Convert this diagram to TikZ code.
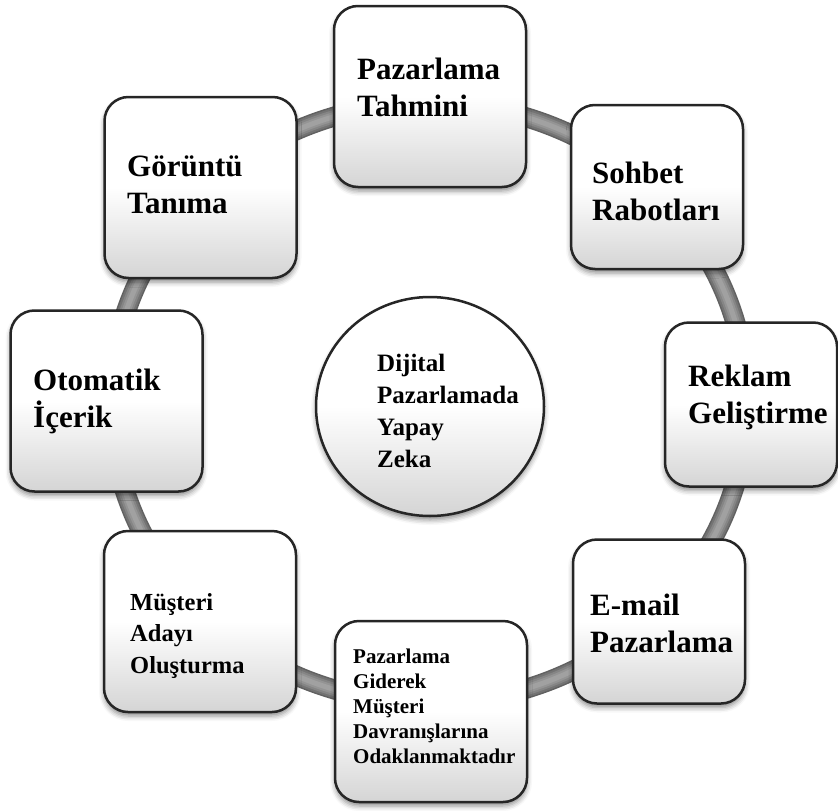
\documentclass[tikz,border=0pt]{standalone}
\usepackage{fontspec}
\setmainfont{Liberation Serif}
\usetikzlibrary{shapes.geometric,shadows.blur}
% glossy fill: white upper half fading to grey at the bottom
\pgfdeclareverticalshading{glassbox}{100bp}{color(0bp)=(black!36); color(20bp)=(black!20); color(50bp)=(white); color(100bp)=(white)}
\begin{document}
\begin{tikzpicture}[x=1pt,y=-1pt,
  glass/.style={draw=black!85, line width=2.5pt, rounded corners=24pt,
    shade, shading=glassbox,
    blur shadow={shadow xshift=0pt, shadow yshift=-4pt, shadow blur radius=5pt, shadow opacity=45}},
  bigbox/.style={glass, minimum width=192pt, minimum height=181pt, inner sep=0pt},
  smallbox/.style={glass, minimum width=172pt, minimum height=164pt, inner sep=0pt},
  hubdisc/.style={glass, ellipse, rounded corners=0pt, minimum width=228pt, minimum height=219pt, inner sep=0pt},
  % labels are placed by the baseline of their last line
  lbl/.style={font=\bfseries\fontsize{31}{37}\selectfont, align=left, inner sep=0pt, anchor=base west},
  lblmid/.style={font=\bfseries\fontsize{24.5}{31.5}\selectfont, align=left, inner sep=0pt, anchor=base west},
  lblhub/.style={font=\bfseries\fontsize{25}{31.7}\selectfont, align=left, inner sep=0pt, anchor=base west},
  lblsmall/.style={font=\bfseries\fontsize{21}{25}\selectfont, align=left, inner sep=0pt, anchor=base west},
  tube/.style={line width=#1}
]
\useasboundingbox (0,0) rectangle (838,811);

% the tube ring that links all boxes, built from nested strokes
\coordinate (hub) at (429,403);
\foreach \w/\c in {20/62,17/55,13/48,9/42,5/37}
  \draw[tube=\w pt, draw=black!\c] (hub) ellipse [x radius=318, y radius=300];

% central disc
\node[hubdisc] (core) at (430,406.5) {};
\node[lblhub] (tcore) at (377,467) {Dijital\\Pazarlamada\\Yapay\\Zeka};

% boxes around the ring, clockwise from the top
\node[bigbox] (b1) at (430,96.5) {};
\node[lbl] (t1) at (357,116) {Pazarlama\\Tahmini};

\node[smallbox] (b2) at (657,187) {};
\node[lbl] (t2) at (592,220) {Sohbet\\Rabotları};

\node[smallbox] (b3) at (751,404.5) {};
\node[lbl] (t3) at (688,423) {Reklam\\Geliştirme};

\node[smallbox] (b4) at (659,621.5) {};
\node[lbl] (t4) at (590,652) {E-mail\\Pazarlama};

\node[bigbox] (b5) at (431,711.5) {};
\node[lblsmall] (t5) at (353,763) {Pazarlama\\Giderek\\Müşteri\\Davranışlarına\\Odaklanmaktadır};

\node[bigbox] (b6) at (200,621.5) {};
\node[lblmid] (t6) at (130,673) {Müşteri\\Adayı\\Oluşturma};

\node[bigbox] (b7) at (106.5,401) {};
\node[lbl] (t7) at (33,427) {Otomatik\\İçerik};

\node[bigbox] (b8) at (200.5,187.5) {};
\node[lbl] (t8) at (127,213) {Görüntü\\Tanıma};
\end{tikzpicture}
\end{document}
